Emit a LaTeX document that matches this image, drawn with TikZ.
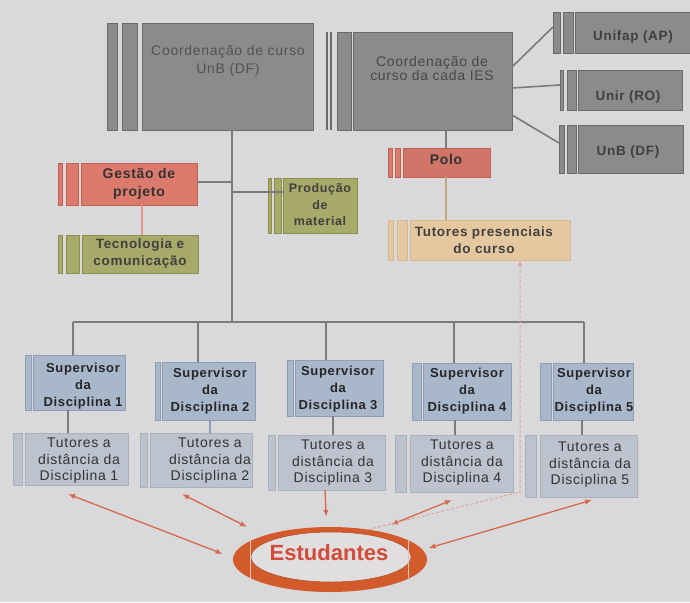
\documentclass[tikz,border=0pt]{standalone}
\usepackage{fontspec}
\setmainfont{Liberation Sans}
\newfontfamily\spc[LetterSpace=5]{Liberation Sans}
\usetikzlibrary{fit,arrows.meta,shapes.geometric,calc}
\definecolor{bg}{HTML}{D9D9DB}
\definecolor{dkfill}{HTML}{8B8B8D}
\definecolor{dkline}{HTML}{6A6A6C}
\definecolor{dktext}{HTML}{4C4C4E}
\definecolor{salfill}{HTML}{DC7B6D}
\definecolor{salline}{HTML}{C0604F}
\definecolor{olfill}{HTML}{A7AA68}
\definecolor{olline}{HTML}{8C8E4E}
\definecolor{tanfill}{HTML}{E6C8A0}
\definecolor{tanline}{HTML}{D8B890}
\definecolor{supfill}{HTML}{A9B7CB}
\definecolor{supline}{HTML}{8F9DB2}
\definecolor{tutfill}{HTML}{BCC3CE}
\definecolor{tutline}{HTML}{A8B0BC}
\definecolor{lgrey}{HTML}{7B7B7D}
\definecolor{orng}{HTML}{D7684A}
\definecolor{ring}{HTML}{D35B2B}
\definecolor{ringin}{HTML}{E0DEDE}
\definecolor{esttext}{HTML}{D24A3A}
\newcommand\stp[5]{\filldraw[#1] (#2,#3) rectangle (#4,#5);}
\begin{document}
\begin{tikzpicture}[x=1pt,y=-1pt,
  bx/.style={inner sep=0pt,outer sep=0pt,line width=0.8pt},
  dkbox/.style={bx,fill=dkfill,draw=dkline},
  dkstp/.style={fill=dkfill,draw=dkline,line width=0.6pt},
  salbox/.style={bx,fill=salfill,draw=salline},
  salstp/.style={fill=salfill,draw=salline,line width=0.5pt},
  olbox/.style={bx,fill=olfill,draw=olline},
  olstp/.style={fill=olfill,draw=olline,line width=0.5pt},
  tanbox/.style={bx,fill=tanfill,draw=tanline},
  tanstp/.style={fill=tanfill,draw=tanline,line width=0.5pt},
  supbox/.style={bx,fill=supfill,draw=supline},
  supstp/.style={fill=supfill,draw=supline,line width=0.5pt},
  tutbox/.style={bx,fill=tutfill,draw=tutline},
  tutstp/.style={fill=tutfill,draw=tutline,line width=0.5pt},
  txt/.style={align=center,inner sep=0pt},
  dktxt/.style={txt,text=dktext,font=\spc\fontsize{14}{18}\selectfont},
  unitxt/.style={txt,text=black!75,font=\spc\bfseries\fontsize{13.5}{16}\selectfont},
  saltxt/.style={txt,text=black!80,font=\spc\bfseries\fontsize{14}{18}\selectfont},
  oltxt/.style={txt,text=black!75,font=\spc\bfseries\fontsize{13.5}{17}\selectfont},
  suptxt/.style={txt,text=black!85,font=\spc\bfseries\fontsize{13}{17}\selectfont},
  tuttxt/.style={txt,text=black!80,font=\spc\fontsize{14}{16.5}\selectfont},
  conn/.style={draw=lgrey,line width=1.6pt},
  arr/.style={draw=orng,line width=1.3pt},
  tip/.style={-{Latex[length=7pt,width=5.5pt]}},
  tips/.style={{Latex[length=7pt,width=5.5pt]}-{Latex[length=7pt,width=5.5pt]}},
]
\fill[bg] (0,0) rectangle (690,602);
\useasboundingbox (0,0) rectangle (690,602);

% ---------- top dark boxes
\stp{dkstp}{107}{23}{117}{130}
\stp{dkstp}{122}{23}{137}{130}
\node[dkbox,fit={(142,23) (313,130)}] (cunb) {};
\node[dktxt,text=black!68] (cunbt) at (228,61) {Coordenação de curso\\UnB (DF)};

\draw[dkline,line width=1.2pt] (327,32) -- (327,130) (331,32) -- (331,130);
\stp{dkstp}{337}{32}{351}{130}
\node[dkbox,fit={(353,32) (512,130)}] (cies) {};
\node[dktxt,text=black!72,font=\spc\fontsize{14}{14}\selectfont] (ciest) at (432,68) {Coordenação de\\curso da cada IES};

\stp{dkstp}{553}{12}{560}{53}
\stp{dkstp}{563}{12}{573}{53}
\node[dkbox,fit={(575,12) (693,53)}] (unifap) {};
\node[unitxt] (unifapt) at (633,37) {Unifap (AP)};

\stp{dkstp}{560}{70}{563}{110}
\stp{dkstp}{567}{70}{576}{110}
\node[dkbox,fit={(578,70) (682,110)}] (unir) {};
\node[unitxt] (unirt) at (628,97) {Unir (RO)};

\stp{dkstp}{559}{125}{564}{173}
\stp{dkstp}{567}{125}{576}{173}
\node[dkbox,fit={(578,125) (683,173)}] (unbdf) {};
\node[unitxt] (unbdft) at (628,152) {UnB (DF)};

\coordinate (unifapL) at (553,27);
\coordinate (unirL) at (560,85);
\coordinate (unbdfL) at (559,143);
\draw[conn] (cies.east |- 0,67) -- (unifapL);
\draw[conn] (cies.east |- 0,88) -- (unirL);
\draw[conn] (cies.east |- 0,115) -- (unbdfL);

% ---------- left middle
\stp{salstp}{58}{163}{62}{205}
\stp{salstp}{66}{163}{78}{205}
\node[salbox,fit={(81,163) (197,205)}] (gestao) {};
\node[saltxt] (gestaot) at (139,184) {Gestão de\\projeto};

\stp{olstp}{58}{235}{62}{273}
\stp{olstp}{66}{235}{79}{273}
\node[olbox,fit={(82,235) (198,273)}] (tec) {};
\node[oltxt] (tect) at (140,254) {Tecnologia e\\comunicação};

\stp{olstp}{268}{178}{271}{233}
\stp{olstp}{274}{178}{281}{233}
\node[olbox,fit={(283,178) (357,233)}] (prod) {};
\node[oltxt,font=\spc\bfseries\fontsize{12.5}{16.5}\selectfont] (prodt) at (320,205) {Produção\\de\\material};

% ---------- right middle
\stp{salstp}{388}{148}{392}{177}
\stp{salstp}{395}{148}{400}{177}
\node[salbox,fill=salfill!95!black,fit={(403,148) (490,177)}] (polo) {};
\node[saltxt] (polot) at (446,159) {Polo};

\stp{tanstp}{388}{220}{393}{260}
\stp{tanstp}{397}{220}{407}{260}
\node[tanbox,fit={(410,220) (570,260)}] (tpres) {};
\node[oltxt,text=black!75] (tprest) at (484,240) {Tutores presenciais\\do curso};

% ---------- main trunk and bus
\coordinate (j0) at (232,322);
\coordinate (b1) at (73,322);
\coordinate (b2) at (198,322);
\coordinate (b3) at (326,322);
\coordinate (b4) at (454,322);
\coordinate (b5) at (584,322);
\draw[conn] (j0 |- cunb.south) -- (j0);
\draw[conn] (gestao.east |- 0,182) -- (j0 |- 0,182);
\draw[conn] (j0 |- 0,192) -- (prod.west |- 0,192);
\draw[conn] (b1) -- (b5);
\draw[conn,draw=salfill!80!white,line width=1.4pt] (gestao.south -| 142,0) -- (tec.north -| 142,0);
\draw[conn] (cies.south -| 446,0) -- (polo.north -| 446,0);
\draw[conn,draw=tanline!90!black,line width=1.4pt] (polo.south -| 446,0) -- (tpres.north -| 446,0);

% ---------- supervisors
\stp{supstp}{25}{355}{31}{410}
\node[supbox,fit={(33,355) (125,410)}] (sup1) {};
\node[suptxt] (sup1t) at (83,386) {Supervisor\\da\\Disciplina 1};
\stp{supstp}{155}{362}{160}{420}
\node[supbox,fit={(162,362) (255,420)}] (sup2) {};
\node[suptxt] (sup2t) at (210,391) {Supervisor\\da\\Disciplina 2};
\stp{supstp}{287}{360}{293}{416}
\node[supbox,fit={(295,360) (383,416)}] (sup3) {};
\node[suptxt] (sup3t) at (338,389) {Supervisor\\da\\Disciplina 3};
\stp{supstp}{412}{363}{421}{420}
\node[supbox,fit={(423,363) (511,420)}] (sup4) {};
\node[suptxt] (sup4t) at (467,391) {Supervisor\\da\\Disciplina 4};
\stp{supstp}{540}{363}{551}{420}
\node[supbox,fit={(553,363) (633,420)}] (sup5) {};
\node[suptxt] (sup5t) at (594,391) {Supervisor\\da\\Disciplina 5};

\draw[conn] (b1) -- (b1 |- sup1.north);
\draw[conn] (b2) -- (b2 |- sup2.north);
\draw[conn] (b3) -- (b3 |- sup3.north);
\draw[conn] (b4) -- (b4 |- sup4.north);
\draw[conn] (b5) -- (b5 |- sup5.north);

% ---------- tutores
\stp{tutstp}{13}{433}{22}{485}
\node[tutbox,fit={(25,433) (128,485)}] (tut1) {};
\node[tuttxt] (tut1t) at (79,461) {Tutores a\\distância da\\Disciplina 1};
\stp{tutstp}{140}{433}{147}{487}
\node[tutbox,fit={(150,433) (252,487)}] (tut2) {};
\node[tuttxt] (tut2t) at (210,461) {Tutores a\\distância da\\Disciplina 2};
\stp{tutstp}{268}{435}{275}{490}
\node[tutbox,fit={(278,435) (385,490)}] (tut3) {};
\node[tuttxt] (tut3t) at (333,463) {Tutores a\\distância da\\Disciplina 3};
\stp{tutstp}{395}{435}{406}{492}
\node[tutbox,fit={(410,435) (513,492)}] (tut4) {};
\node[tuttxt] (tut4t) at (462,463) {Tutores a\\distância da\\Disciplina 4};
\stp{tutstp}{525}{435}{536}{497}
\node[tutbox,fit={(540,435) (637,497)}] (tut5) {};
\node[tuttxt] (tut5t) at (590,465) {Tutores a\\distância da\\Disciplina 5};

\draw[conn,line width=1.3pt] (sup1.south -| 68,0) -- (tut1.north -| 68,0);
\draw[conn,line width=1.3pt,draw=supline] (sup2.south -| 210,0) -- (tut2.north -| 210,0);
\draw[conn,line width=1.3pt] (sup3.south -| 333,0) -- (tut3.north -| 333,0);
\draw[conn,line width=1.3pt] (sup4.south -| 455,0) -- (tut4.north -| 455,0);
\draw[conn,line width=1.3pt] (sup5.south -| 582,0) -- (tut5.north -| 582,0);

% ---------- Estudantes
\node[ellipse,fill=ring,minimum width=194pt,minimum height=65pt,inner sep=0pt] (est) at (330,559.5) {};
\node[ellipse,fill=ringin,draw=ring!80!black,line width=0.5pt,minimum width=160pt,minimum height=50pt,inner sep=0pt] (estin) at (331,557) {};
\begin{scope}
\clip (est.center) ellipse [x radius=97, y radius=32.5];
\draw[ringin!80!ring,line width=1pt] (250,520) -- (250,600) (408,520) -- (408,600);
\end{scope}
\node[txt,text=esttext,font=\bfseries\fontsize{22}{24}\selectfont] (estt) at (329,553) {Estudantes};

% ---------- arrows to Estudantes
\coordinate (s1) at (68,494);
\coordinate (s2) at (182,494);
\coordinate (s4) at (452,500);
\coordinate (s5) at (592,500);
\draw[arr,tips,shorten >=11pt] (s1) -- (est.179);
\draw[arr,tips,shorten >=19pt] (s2) -- (est.160.9);
\draw[arr,tip,shorten >=10pt] (tut3.south -| 325,0) -- (est.96.7);
\draw[arr,tips,shorten >=16pt] (s4) -- (est.32.9);
\draw[arr,tips,shorten >=6pt] (s5) -- (est.6.7);

% ---------- dashed link to tutores presenciais
\coordinate (dk) at (520,492);
\draw[draw=salfill!55!bg,line width=1pt,dash pattern=on 3pt off 2pt,-{Latex[length=6pt,width=4.5pt]}]
  (est.38) -- (dk) -- (dk |- tpres.south);
\end{tikzpicture}
\end{document}
